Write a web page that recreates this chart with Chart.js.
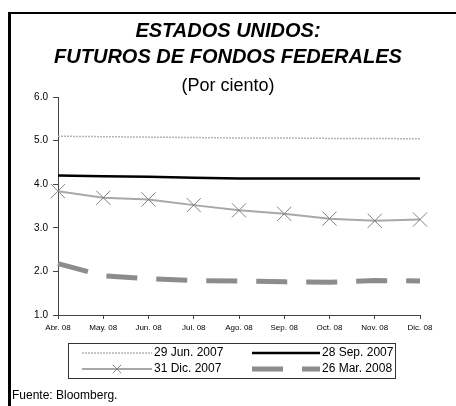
<!DOCTYPE html>
<html>
<head>
<meta charset="utf-8">
<script src="https://cdn.jsdelivr.net/npm/chart.js@4.4.1/dist/chart.umd.min.js"></script>
<style>
    html, body { margin: 0; padding: 0; background: #fff; }
    #contenedor { width: 456px; height: 406px; position: relative; }
</style>
</head>
<body>
<div id="contenedor"><canvas id="grafica"></canvas></div>
<script>
// datos (por ciento)
var meses = ['Abr. 08', 'May. 08', 'Jun. 08', 'Jul. 08', 'Ago. 08', 'Sep. 08', 'Oct. 08', 'Nov. 08', 'Dic. 08'];
var serieJun2007 = [5.10, 5.09, 5.08, 5.07, 5.06, 5.06, 5.05, 5.05, 5.04];
var serieSep2007 = [4.20, 4.18, 4.17, 4.15, 4.13, 4.13, 4.13, 4.13, 4.13];
var serieDic2007 = [3.84, 3.69, 3.65, 3.52, 3.40, 3.32, 3.21, 3.16, 3.19];
var serieMar2008 = [2.18, 1.90, 1.83, 1.79, 1.78, 1.76, 1.75, 1.79, 1.78];
var etiquetas = ['29 Jun. 2007', '28 Sep. 2007', '31 Dic. 2007', '26 Mar. 2008'];

var fuente = 'Arial, "Liberation Sans", sans-serif';

// marco, leyenda y fuente dibujados sobre el canvas
var marcoYLeyenda = {
    id: 'marcoYLeyenda',
    beforeDraw: function(chart) {
        var ctx = chart.ctx;
        ctx.save();
        ctx.strokeStyle = '#000';
        ctx.lineWidth = 2;
        ctx.beginPath();
        ctx.moveTo(8, 13);
        ctx.lineTo(456, 13);
        ctx.stroke();
        ctx.lineWidth = 3;
        ctx.beginPath();
        ctx.moveTo(9.5, 12);
        ctx.lineTo(9.5, 406);
        ctx.stroke();
        ctx.restore();
    },
    afterDraw: function(chart) {
        var ctx = chart.ctx;
        ctx.save();
        ctx.strokeStyle = '#333';
        ctx.lineWidth = 1;
        ctx.strokeRect(68.5, 343.5, 327, 35);

        var filas = [353, 369];
        var columnas = [[82, 152], [252, 320]];
        chart.data.datasets.forEach(function(ds, i) {
            var y = filas[Math.floor(i / 2)];
            var c = columnas[i % 2];
            ctx.save();
            ctx.strokeStyle = ds.borderColor;
            ctx.lineWidth = ds.borderWidth;
            ctx.setLineDash(ds.borderDash || []);
            ctx.beginPath();
            ctx.moveTo(c[0], y);
            ctx.lineTo(c[1], y);
            ctx.stroke();
            ctx.restore();
            if (ds.pointStyle === 'crossRot') {
                ctx.save();
                ctx.strokeStyle = ds.pointBorderColor;
                ctx.lineWidth = 1;
                Chart.helpers.drawPoint(ctx, {
                    pointStyle: 'crossRot', radius: 6, rotation: 0, borderWidth: 1
                }, (c[0] + c[1]) / 2, y);
                ctx.restore();
            }
            ctx.fillStyle = '#000';
            ctx.font = '12px ' + fuente;
            ctx.textAlign = 'left';
            ctx.textBaseline = 'middle';
            ctx.fillText(ds.label, c[1] + 2, y);
        });

        ctx.font = '12px ' + fuente;
        ctx.textAlign = 'left';
        ctx.textBaseline = 'middle';
        ctx.fillStyle = '#000';
        ctx.fillText('Fuente: Bloomberg.', 12, 396);
        ctx.restore();
    }
};

var ctx = document.getElementById('grafica').getContext('2d');

var grafica = new Chart(ctx, {
    type: 'line',
    data: {
        labels: meses,
        datasets: [{
            label: etiquetas[0],
            data: serieJun2007,
            borderColor: '#b4b4b4',
            borderWidth: 1.5,
            borderDash: [2, 1],
            pointRadius: 0
        }, {
            label: etiquetas[1],
            data: serieSep2007,
            borderColor: '#000',
            borderWidth: 2.5,
            pointRadius: 0
        }, {
            label: etiquetas[2],
            data: serieDic2007,
            borderColor: '#a8a8a8',
            borderWidth: 2,
            pointStyle: 'crossRot',
            pointRadius: 10,
            pointBorderWidth: 1,
            pointBorderColor: '#808080',
            pointBackgroundColor: '#808080'
        }, {
            label: etiquetas[3],
            data: serieMar2008,
            borderColor: '#8c8c8c',
            borderWidth: 5,
            borderDash: [31, 19],
            pointRadius: 0
        }]
    },
    plugins: [marcoYLeyenda],
    options: {
        responsive: true,
        maintainAspectRatio: false,
        animation: false,
        layout: {
            padding: { left: 0, right: 0, top: 0, bottom: 71 }
        },
        plugins: {
            legend: { display: false },
            tooltip: { enabled: false },
            title: {
                display: true,
                text: ['ESTADOS UNIDOS:', 'FUTUROS DE FONDOS FEDERALES'],
                color: '#000',
                font: { family: fuente, size: 20, weight: 'bold', style: 'italic', lineHeight: 1.3 },
                padding: { top: 18, bottom: 7 }
            },
            subtitle: {
                display: true,
                text: '(Por ciento)',
                color: '#000',
                font: { family: fuente, size: 18, lineHeight: 1.0 },
                padding: { top: 0, bottom: 2 }
            }
        },
        scales: {
            x: {
                afterFit: function(scale) { scale.height = 20; },
                grid: { display: true, drawOnChartArea: false, drawTicks: true, tickLength: 4, color: '#444' },
                border: { display: true, color: '#444', width: 1 },
                ticks: {
                    color: '#000',
                    font: { family: fuente, size: 8 },
                    maxRotation: 0,
                    autoSkip: false,
                    padding: 4
                }
            },
            y: {
                min: 1,
                max: 6,
                afterFit: function(scale) { scale.width = 58; },
                grid: { display: true, drawOnChartArea: false, drawTicks: true, tickLength: 5, color: '#444' },
                border: { display: true, color: '#444', width: 1 },
                ticks: {
                    stepSize: 1,
                    color: '#000',
                    font: { family: fuente, size: 10 },
                    padding: 5,
                    callback: function(v) { return v.toFixed(1); }
                }
            },
            // eje derecho vacío: solo reserva el margen derecho
            margen: {
                position: 'right',
                afterFit: function(scale) { scale.width = 36; },
                grid: { display: false },
                border: { display: false },
                ticks: { display: false }
            }
        }
    }
});
</script>
</body>
</html>
